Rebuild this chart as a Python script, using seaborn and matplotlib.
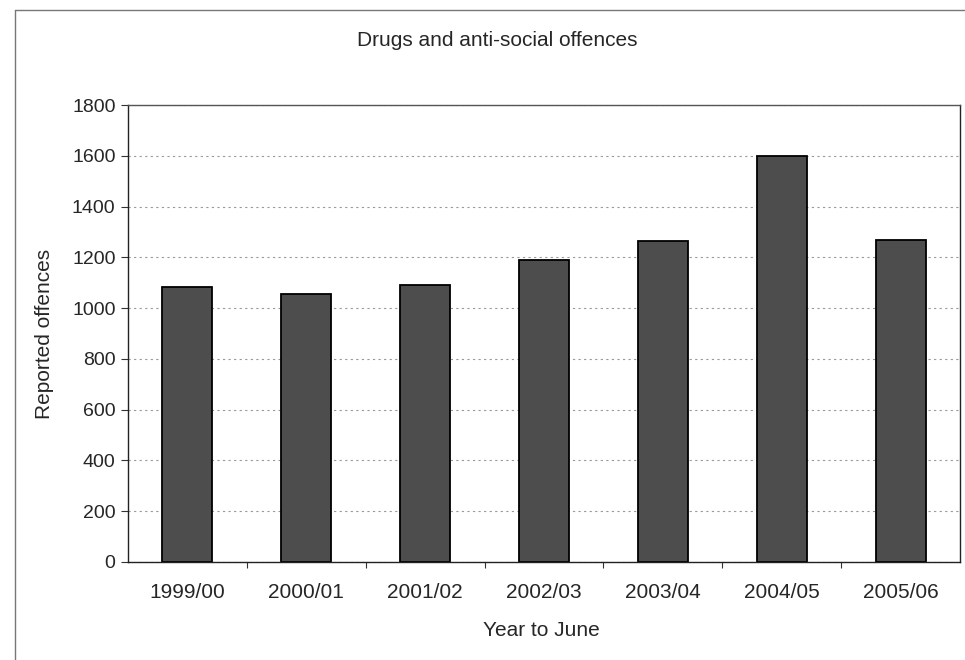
import matplotlib
matplotlib.use("Agg")
import matplotlib.pyplot as plt
import seaborn as sns
import pandas as pd
from matplotlib.lines import Line2D
from matplotlib.ticker import FixedLocator

years = ["1999/00", "2000/01", "2001/02", "2002/03", "2003/04", "2004/05", "2005/06"]
offences = [1085, 1055, 1090, 1190, 1265, 1600, 1270]
y_ticks = [0, 200, 400, 600, 800, 1000, 1200, 1400, 1600, 1800]

sns.set_theme(style="white")
plt.rcParams['font.family'] = ['Liberation Sans', 'DejaVu Sans']

df = pd.DataFrame({"Year": years, "Offences": offences})

W, H = 965, 660
fig = plt.figure(figsize=(W/100, H/100), dpi=100)
left, right, top, bottom = 128, 960, 105, 562
ax = fig.add_axes([left/W, 1 - bottom/H, (right-left)/W, (bottom-top)/H])

sns.barplot(data=df, x="Year", y="Offences", ax=ax, color="#4d4d4d",
            width=0.42, edgecolor="black", linewidth=1.3, saturation=1)

ax.set_xlim(-0.5, len(years) - 0.5)
ax.set_ylim(0, 1800)
ax.set_yticks(y_ticks)
ax.set_yticklabels([str(t) for t in y_ticks], fontsize=14)
ax.tick_params(axis='x', which='major', labelsize=15, length=0, pad=15)
ax.xaxis.set_minor_locator(FixedLocator([i + 0.5 for i in range(len(years) - 1)]))
ax.tick_params(axis='x', which='minor', length=4, width=0.8, color="#333333", direction='out', bottom=True)
ax.tick_params(axis='y', length=5, width=0.8, color="#333333", direction='out', left=True, pad=4)
ax.yaxis.grid(True, linestyle=(0, (2, 3)), color="#999999", linewidth=0.8)
ax.set_axisbelow(True)
for s in ["top", "right", "left", "bottom"]:
    ax.spines[s].set_visible(True)
    ax.spines[s].set_linewidth(1.0)
ax.spines["top"].set_color("#555555")
ax.spines["right"].set_color("#222222")
ax.spines["left"].set_color("#222222")
ax.spines["bottom"].set_color("#222222")

ax.set_xlabel("Year to June", fontsize=15)
ax.xaxis.set_label_coords((541 - left) / (right - left), -(630 - bottom) / (bottom - top))
ax.xaxis.label.set_verticalalignment('center')
ax.set_ylabel("Reported offences", fontsize=15)
ax.yaxis.set_label_coords(-(left - 45) / (right - left), 0.5)
ax.yaxis.label.set_verticalalignment('center')

fig.text(497/W, 1 - 40/H, "Drugs and anti-social offences", ha="center", va="center", fontsize=15)

fig.lines.append(Line2D([15/W, 15/W], [0, 1 - 10/H], transform=fig.transFigure, color="#777777", linewidth=1))
fig.lines.append(Line2D([15/W, 1], [1 - 10/H, 1 - 10/H], transform=fig.transFigure, color="#777777", linewidth=1))

fig.savefig("out.png", dpi=100)
